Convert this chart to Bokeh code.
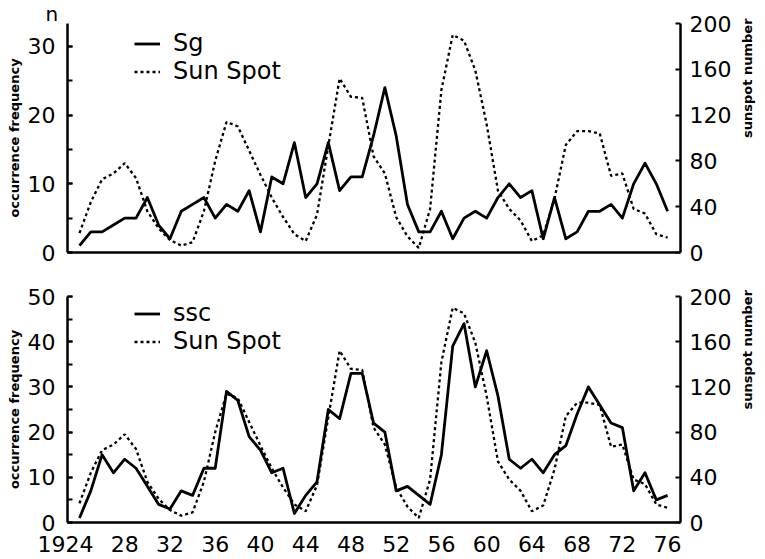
import math
from bokeh.plotting import figure
from bokeh.models import (LinearAxis, Range1d, SingleIntervalTicker, FixedTicker,
                          Legend, LegendItem)
from bokeh.layouts import column
from bokeh.embed import file_html
from bokeh.resources import INLINE

years = list(range(1924, 1977))
sg = [1, 3, 3, 4, 5, 5, 8, 4, 2, 6,
      7, 8, 5, 7, 6, 9, 3, 11, 10, 16,
      8, 10, 16, 9, 11, 11, 17, 24, 17, 7,
      3, 3, 6, 2, 5, 6, 5, 8, 10, 8,
      9, 2, 8, 2, 3, 6, 6, 7, 5, 10,
      13, 10, 6]
ssc = [1, 7, 15, 11, 14, 12, 8, 4, 3, 7,
       6, 12, 12, 29, 27, 19, 16, 11, 12, 2,
       6, 9, 25, 23, 33, 33, 22, 20, 7, 8,
       6, 4, 15, 39, 44, 30, 38, 28, 14, 12,
       14, 11, 15, 17, 24, 30, 26, 22, 21, 7,
       11, 5, 6]
sunspot = [17, 44, 64, 69, 78, 65, 36, 21, 11, 6,
           9, 36, 80, 114, 110, 89, 68, 48, 31, 16,
           10, 33, 93, 152, 136, 135, 84, 69, 31, 14,
           4, 38, 142, 190, 185, 159, 112, 54, 38, 28,
           10, 15, 47, 94, 106, 106, 104, 67, 69, 38,
           34, 16, 13]
x_ticks = [1924, 1928, 1932, 1936, 1940, 1944, 1948, 1952, 1956, 1960, 1964, 1968, 1972, 1976]
x_tick_labels = ["1924\u2007\u2007", "28", "32", "36", "40", "44", "48", "52", "56", "60",
                 "64", "68", "72", "76"]
sunspot_ticks = [0, 40, 80, 120, 160, 200]

FONT = "DejaVu Sans"
X0, X1 = 1922.94, 1977.14


def panel(height, b_top, b_bottom, ymax, freq, show_x):
    p = figure(width=765, height=height, output_backend="svg", toolbar_location=None,
               x_range=Range1d(X0, X1), y_range=Range1d(0, ymax),
               min_border_left=67, min_border_right=82,
               min_border_top=b_top, min_border_bottom=b_bottom)
    p.extra_y_ranges = {"ss": Range1d(0, 200)}
    p.outline_line_color = None
    p.xgrid.visible = False
    p.ygrid.visible = False
    p.background_fill_color = "white"
    p.border_fill_color = "white"

    # left axis
    ya = p.yaxis[0]
    ya.ticker = SingleIntervalTicker(interval=10, num_minor_ticks=2)
    ya.axis_line_width = 2.5
    ya.axis_line_color = "black"
    ya.major_tick_in = 5
    ya.major_tick_out = 0
    ya.minor_tick_in = 5
    ya.minor_tick_out = 0
    ya.major_tick_line_width = 2
    ya.minor_tick_line_width = 2
    ya.major_label_text_font = FONT
    ya.major_label_text_font_size = "22px"
    ya.major_label_text_color = "black"
    ya.major_label_standoff = 12
    ya.axis_label = "occurrence frequency"
    ya.axis_label_text_font = FONT
    ya.axis_label_text_font_size = "13px"
    ya.axis_label_text_font_style = "bold"
    ya.axis_label_text_color = "black"
    ya.axis_label_standoff = 3

    # right axis
    ra = LinearAxis(y_range_name="ss", ticker=FixedTicker(ticks=sunspot_ticks))
    ra.axis_line_width = 2.5
    ra.major_tick_in = 5
    ra.major_tick_out = 0
    ra.minor_tick_in = 0
    ra.minor_tick_out = 0
    ra.major_tick_line_width = 2
    ra.major_label_text_font = FONT
    ra.major_label_text_font_size = "22px"
    ra.major_label_text_color = "black"
    ra.major_label_standoff = 9
    ra.axis_label = "sunspot number"
    ra.axis_label_text_font = FONT
    ra.axis_label_text_font_size = "13px"
    ra.axis_label_text_font_style = "bold"
    ra.axis_label_text_color = "black"
    ra.axis_label_standoff = 13
    try:
        ra.axis_label_orientation = math.pi / 2
    except Exception:
        pass
    p.add_layout(ra, "right")

    # bottom axis
    xa = p.xaxis[0]
    xa.axis_line_width = 2.5
    xa.major_tick_in = 0
    xa.major_tick_out = 0
    xa.minor_tick_in = 0
    xa.minor_tick_out = 0
    if show_x:
        xa.ticker = FixedTicker(ticks=x_ticks)
        xa.major_label_overrides = {t: s for t, s in zip(x_ticks, x_tick_labels)}
        xa.major_label_text_font = FONT
        xa.major_label_text_font_size = "22px"
        xa.major_label_text_color = "black"
        xa.major_label_standoff = 9
    else:
        xa.ticker = FixedTicker(ticks=[])
        xa.major_label_text_font_size = "0px"

    r_freq = p.line(years, freq, line_color="black", line_width=2.8, line_join="round")
    r_ss = p.line(years, sunspot, y_range_name="ss", line_color="black", line_width=2.3,
                  line_dash="3 3")
    return p, r_freq, r_ss


top, t_sg, t_ss = panel(275, 23, 23, 200 / 6, sg, False)
bot, b_ssc, b_ss = panel(284, 21, 35, 50, ssc, True)

top.title.text = "n"
top.title.align = "left"
top.title.offset = -22
top.title.text_font = FONT
top.title.text_font_size = "20px"
top.title.text_font_style = "normal"
top.title.text_color = "black"
try:
    top.title.standoff = -4
except Exception:
    top.title.standoff = 0
    top.title.text_font_size = "17px"

for p, rf, rs, name in ((top, t_sg, t_ss, "Sg"), (bot, b_ssc, b_ss, "ssc")):
    lg = Legend(items=[LegendItem(label=name, renderers=[rf]),
                       LegendItem(label="Sun Spot", renderers=[rs])],
                location=(67, 167), padding=0, margin=0, spacing=-4,
                glyph_width=26, glyph_height=23, label_height=23, label_standoff=13,
                label_text_font=FONT, label_text_font_size="24px",
                label_text_color="black",
                border_line_color=None, background_fill_alpha=0)
    p.add_layout(lg)

layout = column(top, bot, spacing=0)
open("out.html", "w").write(file_html(layout, INLINE))
